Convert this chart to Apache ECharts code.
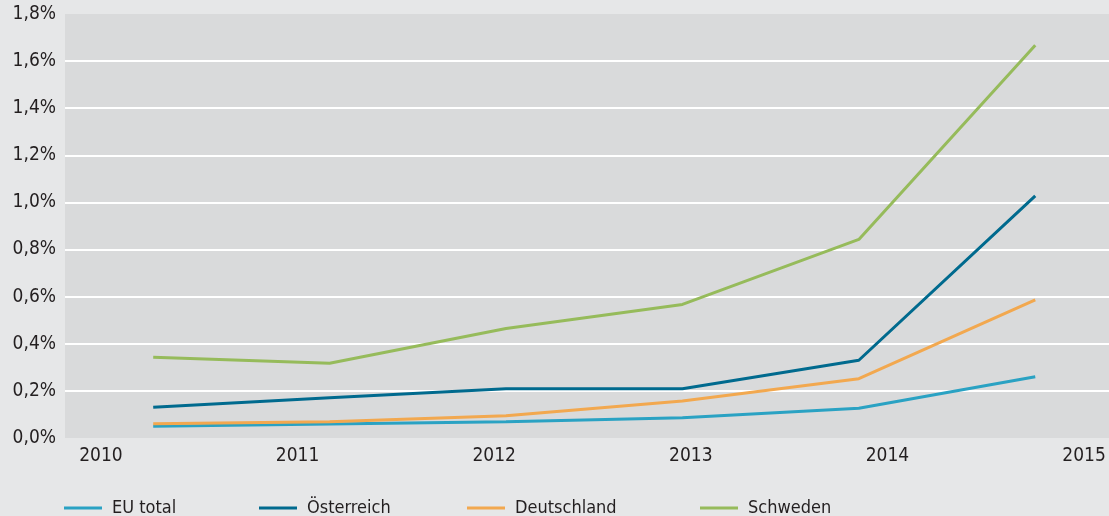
<!DOCTYPE html>
<html><head><meta charset="utf-8">
<script src="https://cdn.jsdelivr.net/npm/echarts@6/dist/echarts.min.js"></script>
<style>html,body{margin:0;padding:0;background:#e6e7e8;} #c{width:1109px;height:516px;}</style>
</head><body><div id="c"></div><script>
// Data (values in %)
const categories = ['2010', '2011', '2012', '2013', '2014', '2015'];
const yearTicks = [2010, 2011, 2012, 2013, 2014, 2015];
const seriesNames = ['EU total', 'Österreich', 'Deutschland', 'Schweden'];
const euTotal = [0.050, 0.059, 0.069, 0.086, 0.126, 0.260];
const oesterreich = [0.131, 0.171, 0.209, 0.209, 0.330, 1.028];
const deutschland = [0.060, 0.069, 0.094, 0.157, 0.252, 0.586];
const schweden = [0.343, 0.317, 0.465, 0.567, 0.843, 1.667];

const colors = ['#2aa2c3', '#006a8e', '#f2a84f', '#96bb5b'];
const font = '"Liberation Sans Narrow", "DejaVu Sans Condensed", sans-serif';
const textColor = '#231f20';
const legendLefts = [59, 254, 462, 695];

const chart = echarts.init(document.getElementById('c'), null, {renderer: 'canvas'});
const values = [euTotal, oesterreich, deutschland, schweden];

chart.setOption({
  animation: false,
  backgroundColor: '#e6e7e8',
  textStyle: {fontFamily: font, color: textColor},
  grid: {left: 65, right: 0, top: 14, bottom: 78, show: true, backgroundColor: '#d9dadb', borderWidth: 0},
  legend: seriesNames.map((n, i) => ({
    data: [n], left: legendLefts[i], top: 494, icon: 'rect', itemWidth: 38, itemHeight: 3,
    textStyle: {fontFamily: font, fontSize: 18, color: textColor, padding: [0, 0, 0, 5]},
    selectedMode: false
  })),
  xAxis: [
    {type: 'value', min: -0.5, max: 5.418,
      axisLabel: {show: false}, axisTick: {show: false}, axisLine: {show: false}, splitLine: {show: false}},
    {type: 'value', min: 2009.817, max: 2015.127, position: 'bottom',
      axisLabel: {customValues: yearTicks, fontFamily: font, fontSize: 19, color: textColor, margin: 9,
        formatter: v => String(v)},
      axisTick: {show: false}, axisLine: {show: false}, splitLine: {show: false}}
  ],
  yAxis: {type: 'value', min: 0, max: 1.8, interval: 0.2,
    axisLabel: {fontFamily: font, fontSize: 19, color: textColor, margin: 9,
      formatter: v => v.toFixed(1).replace('.', ',') + '%'},
    axisTick: {show: false}, axisLine: {show: false},
    splitLine: {show: true, showMinLine: false, showMaxLine: false, lineStyle: {color: '#ffffff', width: 2}}},
  series: seriesNames.map((n, i) => ({
    name: n, type: 'line', xAxisIndex: 0,
    data: values[i].map((v, k) => [categories.indexOf(categories[k]), v]),
    symbol: 'none',
    lineStyle: {color: colors[i], width: 3}, itemStyle: {color: colors[i]}
  }))
});
</script></body></html>
